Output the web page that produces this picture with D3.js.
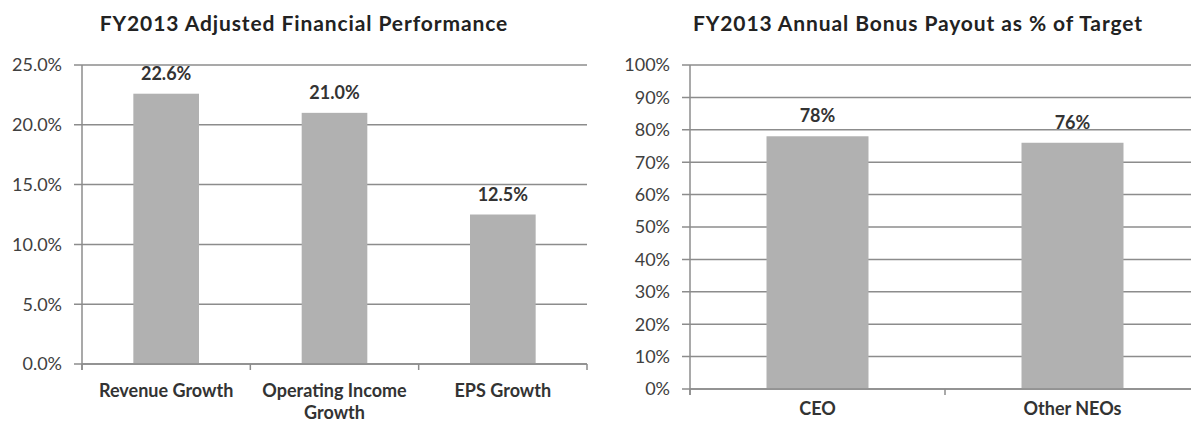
<!DOCTYPE html>
<html>
<head>
<meta charset="utf-8">
<script src="https://cdn.jsdelivr.net/npm/d3@7"></script>
<style>
  body { margin: 0; background: #fff; }
  text { font-family: Lato, "Open Sans", sans-serif; }
</style>
</head>
<body>
<script>
// left chart data
var perfCategories = [["Revenue Growth"], ["Operating Income", "Growth"], ["EPS Growth"]];
var perfValues = [22.6, 21.0, 12.5];
var perfTicks = [0, 5, 10, 15, 20, 25];

// right chart data
var bonusCategories = [["CEO"], ["Other NEOs"]];
var bonusValues = [78, 76];
var bonusTicks = [0, 10, 20, 30, 40, 50, 60, 70, 80, 90, 100];

var svg = d3.select("body").append("svg")
    .attr("width", 1191)
    .attr("height", 423);

var gridColor = "#8c8c8c", barColor = "#b1b1b1", textColor = "#333";

function drawChart(opt) {
  var x = d3.scaleBand()
      .domain(d3.range(opt.values.length))
      .range([opt.left, opt.right])
      .paddingInner(opt.pad)
      .paddingOuter(opt.pad / 2);
  var y = d3.scaleLinear()
      .domain([0, opt.max])
      .range([opt.bottom, opt.top]);
  var step = x.step();

  var g = svg.append("g");

  // title
  g.append("text")
      .attr("x", opt.titleX)
      .attr("y", 31)
      .attr("text-anchor", "middle")
      .attr("font-size", 21)
      .attr("font-weight", "bold")
      .attr("letter-spacing", 0.9)
      .attr("fill", "#222")
      .text(opt.title);

  // gridlines + y ticks
  g.append("g").selectAll("line")
      .data(opt.ticks)
      .enter().append("line")
      .attr("x1", opt.left - 8)
      .attr("x2", opt.right)
      .attr("y1", function(d) { return y(d); })
      .attr("y2", function(d) { return y(d); })
      .attr("stroke", gridColor)
      .attr("stroke-width", 1.5);

  g.append("g").selectAll("text")
      .data(opt.ticks)
      .enter().append("text")
      .attr("x", opt.left - 20)
      .attr("y", function(d) { return y(d); })
      .attr("dy", "0.35em")
      .attr("text-anchor", "end")
      .attr("font-size", 18)
      .attr("fill", "#404040")
      .text(opt.fmt);

  // bars
  g.append("g").selectAll("rect")
      .data(opt.values)
      .enter().append("rect")
      .attr("x", function(d, i) { return x(i); })
      .attr("width", x.bandwidth())
      .attr("y", function(d) { return y(d); })
      .attr("height", function(d) { return y(0) - y(d); })
      .attr("fill", barColor);

  // value labels
  g.append("g").selectAll("text")
      .data(opt.values)
      .enter().append("text")
      .attr("x", function(d, i) { return x(i) + x.bandwidth() / 2; })
      .attr("y", function(d) { return y(d) - 14; })
      .attr("text-anchor", "middle")
      .attr("font-size", 18)
      .attr("font-weight", "bold")
      .attr("fill", textColor)
      .text(opt.labelFmt);

  // axes lines
  g.append("line")
      .attr("x1", opt.left).attr("x2", opt.left)
      .attr("y1", opt.top).attr("y2", opt.bottom + 6)
      .attr("stroke", gridColor).attr("stroke-width", 1.5);
  g.append("line")
      .attr("x1", opt.left).attr("x2", opt.right)
      .attr("y1", opt.bottom).attr("y2", opt.bottom)
      .attr("stroke", gridColor).attr("stroke-width", 1.5);

  // category ticks at slot boundaries
  var bounds = d3.range(opt.values.length + 1).map(function(i) { return opt.left + i * step; });
  g.append("g").selectAll("line")
      .data(bounds)
      .enter().append("line")
      .attr("x1", function(d) { return d; })
      .attr("x2", function(d) { return d; })
      .attr("y1", opt.bottom)
      .attr("y2", opt.bottom + 6)
      .attr("stroke", gridColor)
      .attr("stroke-width", 1.5);

  // category labels
  var cat = g.append("g").selectAll("text")
      .data(opt.categories)
      .enter().append("text")
      .attr("x", function(d, i) { return x(i) + x.bandwidth() / 2; })
      .attr("y", opt.catY)
      .attr("text-anchor", "middle")
      .attr("font-size", 18)
      .attr("font-weight", "bold")
      .attr("fill", textColor);
  cat.selectAll("tspan")
      .data(function(d) { return d; })
      .enter().append("tspan")
      .attr("x", function() { return d3.select(this.parentNode).attr("x"); })
      .attr("dy", function(d, i) { return i === 0 ? 0 : 22; })
      .text(function(d) { return d; });
}

drawChart({
  title: "FY2013 Adjusted Financial Performance",
  titleX: 304,
  categories: perfCategories,
  values: perfValues,
  ticks: perfTicks,
  max: 25,
  left: 82, right: 587, top: 65, bottom: 364,
  pad: 0.61,
  catY: 397,
  fmt: function(d) { return d.toFixed(1) + "%"; },
  labelFmt: function(d) { return d.toFixed(1) + "%"; }
});

drawChart({
  title: "FY2013 Annual Bonus Payout as % of Target",
  titleX: 918,
  categories: bonusCategories,
  values: bonusValues,
  ticks: bonusTicks,
  max: 100,
  left: 690, right: 1200, top: 65, bottom: 389,
  pad: 0.6,
  catY: 415,
  fmt: function(d) { return d + "%"; },
  labelFmt: function(d) { return d + "%"; }
});
</script>
</body>
</html>
